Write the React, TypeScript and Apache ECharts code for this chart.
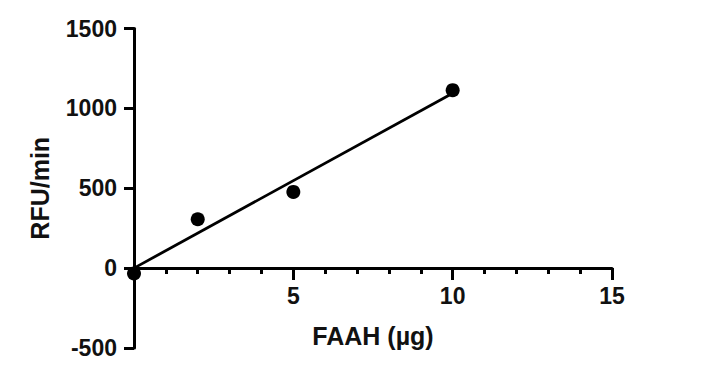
import React, { useEffect, useRef } from "react";
import * as echarts from "echarts";

const faahUg = [0, 2, 5, 10];
const rfuPerMin = [-33, 306, 477, 1114];
const fitX = [0, 10];
const fitY = [0, 1095];
const xTicks = { min: 0, max: 15, interval: 5 };
const yTicks = { min: -500, max: 1500, interval: 500 };

const FONT = "'Liberation Sans', Arial, sans-serif";

export default function App() {
  const ref = useRef<HTMLDivElement>(null);
  useEffect(() => {
    if (!ref.current) return;
    const chart = echarts.init(ref.current, null, { renderer: "svg" });
    chart.setOption({
      animation: false,
      backgroundColor: "#ffffff",
      grid: { left: 134, right: 99, top: 28.5, bottom: 23, containLabel: false, outerBoundsMode: "none" },
      xAxis: {
        type: "value",
        min: xTicks.min,
        max: xTicks.max,
        interval: xTicks.interval,
        position: "bottom",
        offset: -80,
        name: "FAAH (µg)",
        nameLocation: "middle",
        nameGap: 55,
        nameTextStyle: { fontFamily: FONT, fontWeight: "bold", fontSize: 25, color: "#111" },
        axisLine: { show: true, onZero: false, lineStyle: { color: "#000", width: 3 } },
        axisTick: { show: true, length: 12, lineStyle: { color: "#000", width: 3 } },
        minorTick: { show: true, splitNumber: 5, length: 6, lineStyle: { color: "#000", width: 3 } },
        axisLabel: {
          fontFamily: FONT,
          fontWeight: "bold",
          fontSize: 23,
          color: "#111",
          margin: 16,
          formatter: (v: number) => (v === 0 ? "" : String(v)),
        },
        splitLine: { show: false },
      },
      yAxis: {
        type: "value",
        min: yTicks.min,
        max: yTicks.max,
        interval: yTicks.interval,
        name: "RFU/min",
        nameLocation: "middle",
        nameGap: 82,
        nameTextStyle: { fontFamily: FONT, fontWeight: "bold", fontSize: 25, color: "#111" },
        axisLine: { show: true, onZero: false, lineStyle: { color: "#000", width: 3 } },
        axisTick: { show: true, length: 10, lineStyle: { color: "#000", width: 3 } },
        axisLabel: {
          fontFamily: FONT,
          fontWeight: "bold",
          fontSize: 23,
          color: "#111",
          margin: 17,
          formatter: (v: number) => String(v),
        },
        splitLine: { show: false },
      },
      series: [
        {
          type: "line",
          data: fitX.map((x, i) => [x, fitY[i]]),
          showSymbol: false,
          symbol: "none",
          lineStyle: { color: "#000", width: 2.8 },
          z: 3,
        },
        {
          type: "scatter",
          data: faahUg.map((x, i) => [x, rfuPerMin[i]]),
          symbol: "circle",
          symbolSize: 14,
          itemStyle: { color: "#000", opacity: 1 },
          clip: false,
          z: 4,
        },
      ],
    });
    return () => chart.dispose();
  }, []);
  return (
    <div
      ref={ref}
      style={{ position: "fixed", left: 0, top: 0, width: 711, height: 371, background: "#fff" }}
    />
  );
}
